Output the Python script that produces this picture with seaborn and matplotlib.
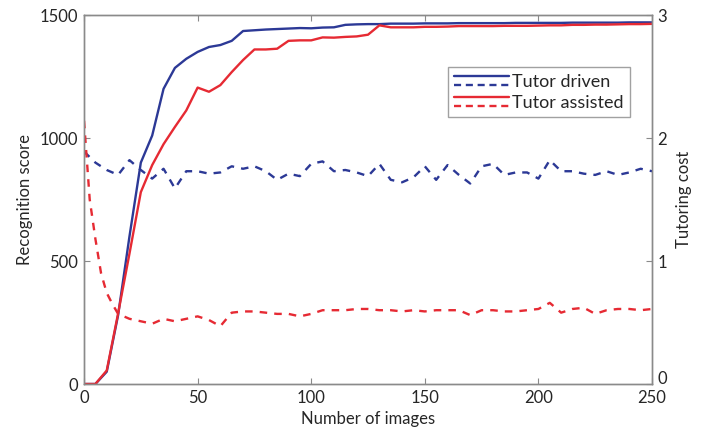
import matplotlib
matplotlib.use("Agg")
import matplotlib.pyplot as plt
import matplotlib.transforms as mtransforms
import seaborn as sns
import pandas as pd
import numpy as np
from matplotlib.lines import Line2D
from matplotlib.legend_handler import HandlerBase

# ---------------- data ----------------
images = list(range(0, 251, 5))

driven_score = [0, 0, 50, 280, 600, 900, 1010, 1200, 1285, 1322, 1350, 1370, 1378,
                1395, 1435, 1438, 1441, 1443, 1445, 1447, 1446, 1449, 1450, 1460,
                1462, 1463, 1463, 1465, 1465, 1465, 1466, 1466, 1466, 1467, 1467,
                1467, 1467, 1467, 1468, 1468, 1468, 1468, 1468, 1469, 1469, 1469,
                1469, 1469, 1470, 1470, 1470]

assisted_score = [0, 0, 55, 287, 530, 780, 890, 975, 1045, 1112, 1205, 1188, 1215,
                  1268, 1317, 1360, 1360, 1363, 1395, 1397, 1397, 1409, 1408, 1411,
                  1413, 1420, 1458, 1450, 1450, 1450, 1452, 1452, 1453, 1455, 1455,
                  1455, 1455, 1456, 1456, 1456, 1457, 1458, 1458, 1460, 1460, 1461,
                  1461, 1462, 1463, 1463, 1464]

driven_cost = [1.89, 1.80, 1.74, 1.70, 1.82, 1.74, 1.67, 1.75, 1.59, 1.73, 1.73,
               1.71, 1.72, 1.77, 1.75, 1.77, 1.73, 1.66, 1.71, 1.69, 1.79, 1.81,
               1.73, 1.74, 1.72, 1.69, 1.79, 1.66, 1.64, 1.68, 1.77, 1.66, 1.78,
               1.70, 1.63, 1.77, 1.79, 1.70, 1.72, 1.72, 1.67, 1.82, 1.73, 1.73,
               1.71, 1.70, 1.73, 1.70, 1.72, 1.75, 1.73]

assisted_cost_x = [0, 2.5, 5, 7.5, 10, 12.5] + list(range(15, 251, 5))
assisted_cost = [2.14, 1.50, 1.18, 0.90, 0.74, 0.65,
                 0.57, 0.53, 0.51, 0.49, 0.53, 0.51, 0.53, 0.55, 0.52, 0.47, 0.58,
                 0.59, 0.59, 0.58, 0.57, 0.57, 0.55, 0.57, 0.60, 0.60, 0.60, 0.61,
                 0.61, 0.60, 0.60, 0.59, 0.60, 0.59, 0.60, 0.60, 0.60, 0.56, 0.60,
                 0.60, 0.59, 0.59, 0.60, 0.61, 0.66, 0.58, 0.61, 0.62, 0.57, 0.60,
                 0.61, 0.61, 0.60, 0.61]

series_names = ["Tutor driven", "Tutor assisted"]
BLUE = "#2c3996"
RED = "#e62a33"
GRAY = "#8a8a8a"

# ---------------- plot ----------------
sns.set_theme(style="white")
plt.rcParams["font.family"] = ["Lato", "DejaVu Sans"]
FS = 12

fig = plt.figure(figsize=(7.02, 4.34), dpi=100)
ax = fig.add_axes([0.1197, 0.1152, 0.8091, 0.8502])
ax2 = ax.twinx()

df_score = pd.DataFrame({"x": images * 2,
                         "y": driven_score + assisted_score,
                         "s": [series_names[0]] * len(images) + [series_names[1]] * len(images)})
df_cost_d = pd.DataFrame({"x": images, "y": driven_cost})
df_cost_a = pd.DataFrame({"x": assisted_cost_x, "y": assisted_cost})

lw = 1.7
sns.lineplot(data=df_score, x="x", y="y", hue="s", palette=[BLUE, RED],
             ax=ax, lw=lw, legend=False, estimator=None)
sns.lineplot(data=df_cost_d, x="x", y="y", color=BLUE, ax=ax2, lw=lw,
             estimator=None)
sns.lineplot(data=df_cost_a, x="x", y="y", color=RED, ax=ax2, lw=lw,
             estimator=None)
ax2.lines[0].set_linestyle((0, (3.2, 3.0)))
ax2.lines[1].set_linestyle((0, (3.2, 3.0)))

ax.set_xlim(0, 250)
ax.set_ylim(0, 1500)
ax2.set_ylim(0, 3)
ax.set_xticks([0, 50, 100, 150, 200, 250])
ax.set_yticks([0, 500, 1000, 1500])
ax2.set_yticks([0, 1, 2, 3])

ax.set_xlabel("Number of images", fontsize=FS, labelpad=4)
ax.set_ylabel("Recognition score", fontsize=FS, labelpad=5)
ax2.set_ylabel("Tutoring cost", fontsize=FS, labelpad=6)

for a in (ax, ax2):
    for sp in a.spines.values():
        sp.set_color(GRAY)
        sp.set_linewidth(1.0)
        sp.set_visible(True)
ax.tick_params(axis="both", direction="in", length=4, width=0.8, color=GRAY,
               labelsize=FS, pad=4, top=True, bottom=True, left=True, right=False)
ax2.tick_params(axis="y", direction="in", length=4, width=0.8, color=GRAY,
                labelsize=FS, pad=4, right=True)

# nudge right-axis "0" label slightly up (as in the reference) so it clears "250"
fig.canvas.draw()
zero_lbl = ax2.get_yticklabels()[0]
zero_lbl.set_transform(zero_lbl.get_transform() +
                       mtransforms.ScaledTranslation(0, 5 / 72, fig.dpi_scale_trans))


class StackHandler(HandlerBase):
    def create_artists(self, legend, orig_handle, xdescent, ydescent, width,
                       height, fontsize, trans):
        color = orig_handle[0]
        x0, x1 = -xdescent, -xdescent + width
        h = height
        l1 = Line2D([x0, x1], [h * 0.85, h * 0.85], color=color, lw=lw,
                    ls="-", transform=trans)
        l2 = Line2D([x0, x1], [h * 0.15, h * 0.15], color=color, lw=lw,
                    ls=(0, (3.0, 2.0)), transform=trans)
        return [l1, l2]


handles = [(BLUE,), (RED,)]
leg = ax.legend(handles, series_names, handler_map={tuple: StackHandler()},
                loc="upper left", bbox_to_anchor=(0.641, 0.858),
                frameon=True, fancybox=False, fontsize=13,
                handlelength=3.0, handletextpad=0.2, labelspacing=0.3,
                borderpad=0.35, borderaxespad=0)
leg.get_frame().set_edgecolor(GRAY)
leg.get_frame().set_linewidth(1.0)
leg.set_zorder(5)

fig.savefig("out.png", dpi=100)
